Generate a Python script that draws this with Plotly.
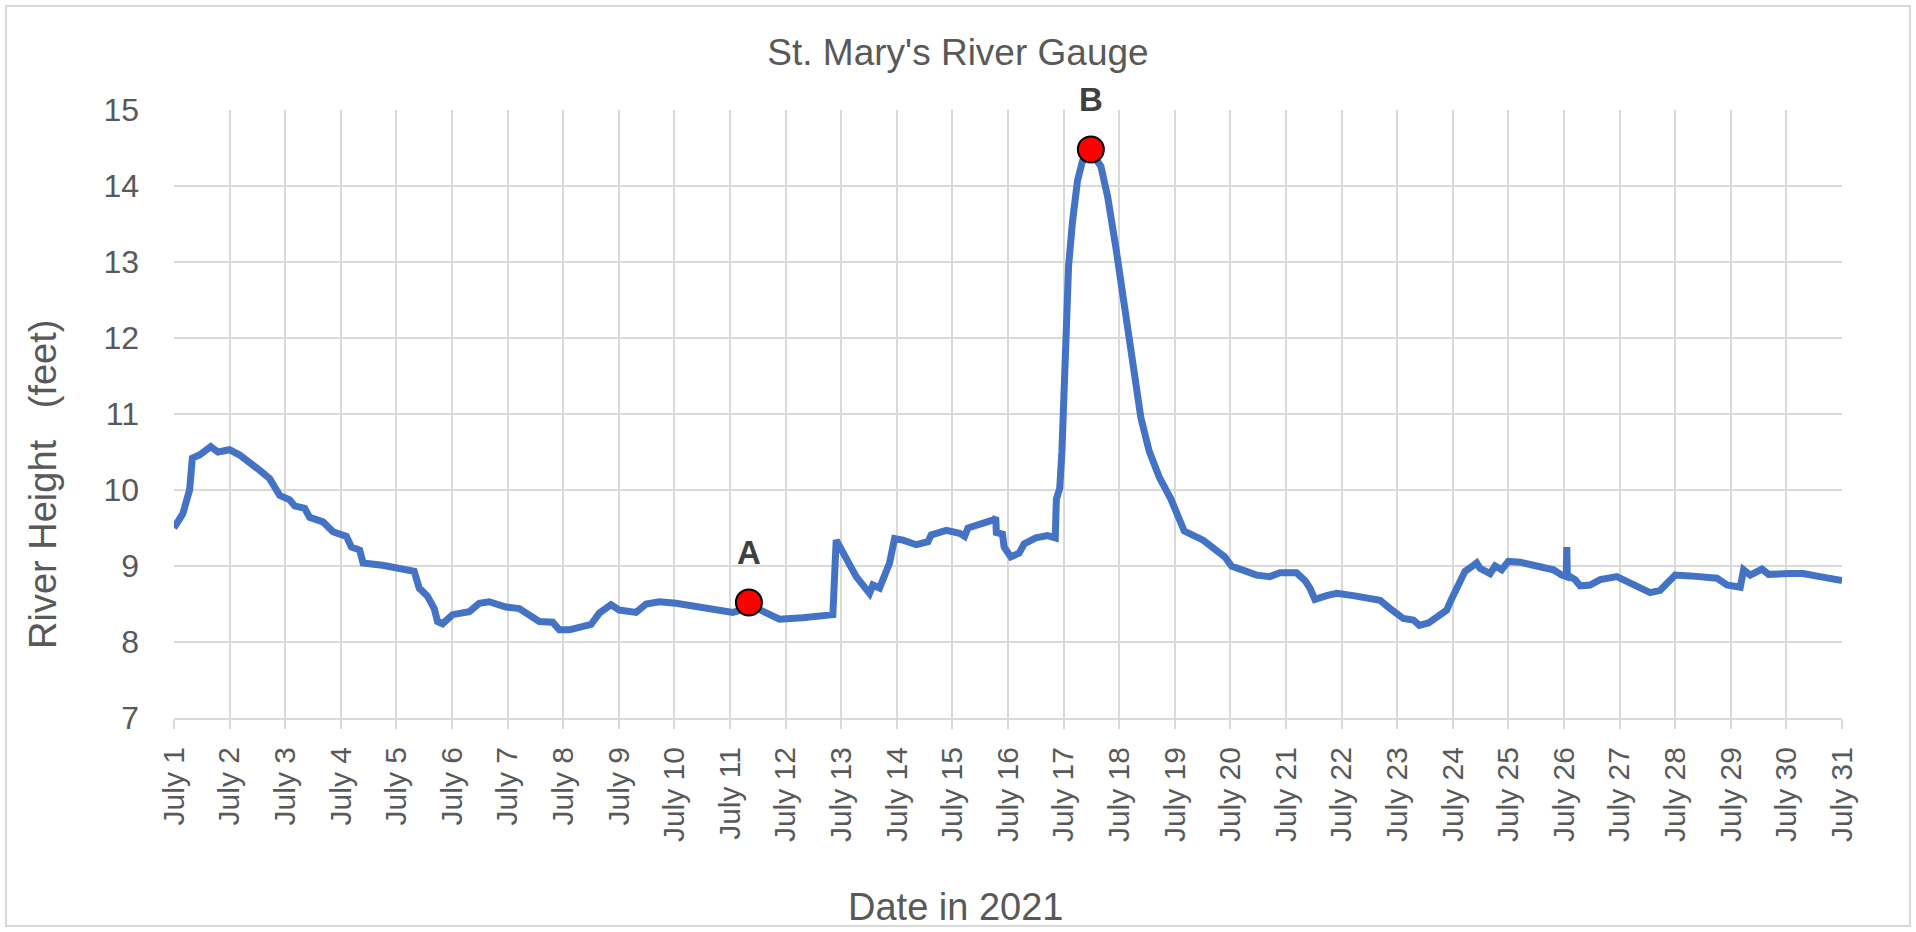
import plotly.graph_objects as go

# ---- data ----
days = [1.00, 1.08, 1.16, 1.28, 1.33, 1.46, 1.58, 1.66, 1.79, 2.00, 2.18, 2.36, 2.54, 2.72, 2.90,
        3.08, 3.17, 3.35, 3.44, 3.68, 3.86, 4.10, 4.19, 4.34, 4.40, 4.75, 5.11, 5.32, 5.41, 5.56,
        5.68, 5.74, 5.83, 6.01, 6.31, 6.49, 6.67, 6.97, 7.21, 7.39, 7.57, 7.81, 7.93, 8.11, 8.44,
        8.50, 8.65, 8.86, 9.01, 9.31, 9.49, 9.73, 10.03, 10.51, 10.81, 11.05, 11.20, 11.45, 11.55,
        11.71, 11.89, 12.31, 12.85, 12.91, 13.03, 13.27, 13.51, 13.57, 13.69, 13.87, 13.96, 14.11,
        14.35, 14.56, 14.62, 14.89, 15.13, 15.22, 15.28, 15.60, 15.75, 15.78, 15.79, 15.90, 15.93,
        16.05, 16.20, 16.29, 16.50, 16.71, 16.85, 16.87, 16.93, 16.97, 17.00, 17.04, 17.09, 17.16,
        17.25, 17.34, 17.49, 17.67, 17.79, 17.94, 18.09, 18.24, 18.39, 18.54, 18.72, 18.93, 19.05,
        19.17, 19.51, 19.69, 19.90, 20.02, 20.47, 20.71, 20.89, 21.19, 21.34, 21.43, 21.52, 21.73,
        21.91, 22.21, 22.51, 22.69, 22.87, 22.99, 23.11, 23.29, 23.40, 23.56, 23.71, 23.89, 23.98,
        24.10, 24.22, 24.34, 24.43, 24.49, 24.67, 24.76, 24.88, 25.00, 25.21, 25.51, 25.81, 25.96,
        26.04, 26.05, 26.06, 26.20, 26.29, 26.47, 26.65, 26.95, 27.25, 27.55, 27.73, 28.00, 28.27,
        28.75, 28.93, 29.17, 29.23, 29.35, 29.56, 29.68, 30.04, 30.30, 30.60, 31.00]
heights = [9.50, 9.60, 9.69, 10.00, 10.42, 10.46, 10.52, 10.57, 10.50, 10.53, 10.46, 10.37, 10.26, 10.15, 9.93,
           9.87, 9.79, 9.76, 9.64, 9.58, 9.45, 9.39, 9.25, 9.21, 9.04, 9.01, 8.97, 8.93, 8.71, 8.60,
           8.44, 8.27, 8.24, 8.36, 8.40, 8.51, 8.53, 8.46, 8.44, 8.36, 8.27, 8.26, 8.16, 8.16, 8.22,
           8.23, 8.38, 8.49, 8.42, 8.39, 8.50, 8.53, 8.51, 8.46, 8.43, 8.39, 8.42, 8.45, 8.42,
           8.36, 8.30, 8.32, 8.36, 9.34, 9.17, 8.86, 8.64, 8.75, 8.71, 9.04, 9.36, 9.34,
           9.28, 9.32, 9.41, 9.47, 9.43, 9.39, 9.50, 9.56, 9.61, 9.64, 9.44, 9.42, 9.25,
           9.12, 9.17, 9.29, 9.37, 9.40, 9.37, 9.88, 10.02, 10.51, 11.24, 12.22, 12.95, 13.53,
           14.07, 14.33, 14.45, 14.26, 13.87, 13.19, 12.46, 11.63, 10.95, 10.51, 10.17, 9.88, 9.68,
           9.46, 9.34, 9.25, 9.12, 9.00, 8.88, 8.86, 8.91, 8.91, 8.81, 8.71, 8.56, 8.61,
           8.64, 8.61, 8.56, 8.55, 8.44, 8.36, 8.31, 8.29, 8.22, 8.25, 8.33, 8.42, 8.57,
           8.75, 8.93, 8.99, 9.04, 8.97, 8.90, 9.00, 8.95, 9.06, 9.05, 9.00, 8.95, 8.88,
           8.86, 9.25, 8.88, 8.82, 8.74, 8.75, 8.82, 8.86, 8.75, 8.65, 8.68, 8.88, 8.87,
           8.84, 8.75, 8.72, 8.95, 8.88, 8.96, 8.89, 8.90, 8.90, 8.86, 8.81]

point_labels = ["A", "B"]
point_days = [11.34, 17.49]
point_heights = [8.52, 14.48]

tick_days = list(range(1, 32))
tick_text = [f"July {d}" for d in tick_days]
y_ticks = [7, 8, 9, 10, 11, 12, 13, 14, 15]

TEXT = "#595959"
FONT = "Liberation Sans, Arial, sans-serif"

fig = go.Figure()
fig.add_trace(go.Scatter(
    x=days, y=heights, mode="lines",
    line=dict(color="#4472C4", width=7),
    hoverinfo="skip", showlegend=False,
))
fig.add_trace(go.Scatter(
    x=point_days, y=point_heights, mode="markers",
    marker=dict(color="#FF0000", size=26, line=dict(color="#000000", width=2)),
    showlegend=False,
))
for lab, dx, hy in zip(point_labels, point_days, point_heights):
    fig.add_annotation(x=dx, y=hy, text=f"<b>{lab}</b>", showarrow=False,
                       yshift=50, font=dict(size=33, color="#404040", family=FONT))

W, H = 1916, 932
L, R, T, B = 174, 74, 110, 214
pw, ph = W - L - R, H - T - B

# outer chart border
fig.add_shape(type="rect", xref="paper", yref="paper",
              x0=(6 - L) / pw, x1=(1910 - L) / pw,
              y0=(H - B - 926) / ph, y1=(H - B - 6) / ph,
              line=dict(color="#D9D9D9", width=2), fillcolor="rgba(0,0,0,0)", layer="below")

# axis titles
fig.add_annotation(xref="paper", yref="paper", x=(956 - L) / pw, y=(H - B - 907) / ph,
                   text="Date in 2021", showarrow=False, xanchor="center", yanchor="middle",
                   font=dict(size=38, color=TEXT, family=FONT))
fig.add_annotation(xref="paper", yref="paper", x=(43 - L) / pw, y=(H - B - 485) / ph,
                   text="River Height\u00a0\u00a0\u00a0(feet)", textangle=-90, showarrow=False,
                   xanchor="center", yanchor="middle",
                   font=dict(size=38, color=TEXT, family=FONT))

fig.update_layout(
    width=W, height=H,
    margin=dict(l=L, r=R, t=T, b=B),
    paper_bgcolor="white", plot_bgcolor="white",
    title=dict(text="St. Mary's River Gauge", x=958 / W, xanchor="center",
               y=1 - 52 / H, yanchor="middle",
               font=dict(size=37, color=TEXT, family=FONT)),
    font=dict(family=FONT, color=TEXT),
)
fig.update_xaxes(
    range=[1, 31], tickmode="array", tickvals=tick_days, ticktext=tick_text,
    tickangle=-90, tickfont=dict(size=30, color=TEXT, family=FONT),
    showgrid=True, gridcolor="#D9D9D9", gridwidth=2,
    ticks="outside", ticklen=9, tickcolor="#D9D9D9", tickwidth=2,
    showline=True, linecolor="#D9D9D9", linewidth=2,
    zeroline=False, ticklabelstandoff=6,
)
fig.update_yaxes(
    range=[7, 15], tickmode="array", tickvals=y_ticks,
    tickfont=dict(size=32, color=TEXT, family=FONT),
    showgrid=True, gridcolor="#D9D9D9", gridwidth=2,
    ticks="", zeroline=False, showline=False, ticklabelstandoff=34,
)

fig.write_html("out.html",
               config={"displayModeBar": False},
               post_script="document.body.style.margin='0';document.body.style.overflow='hidden';")
